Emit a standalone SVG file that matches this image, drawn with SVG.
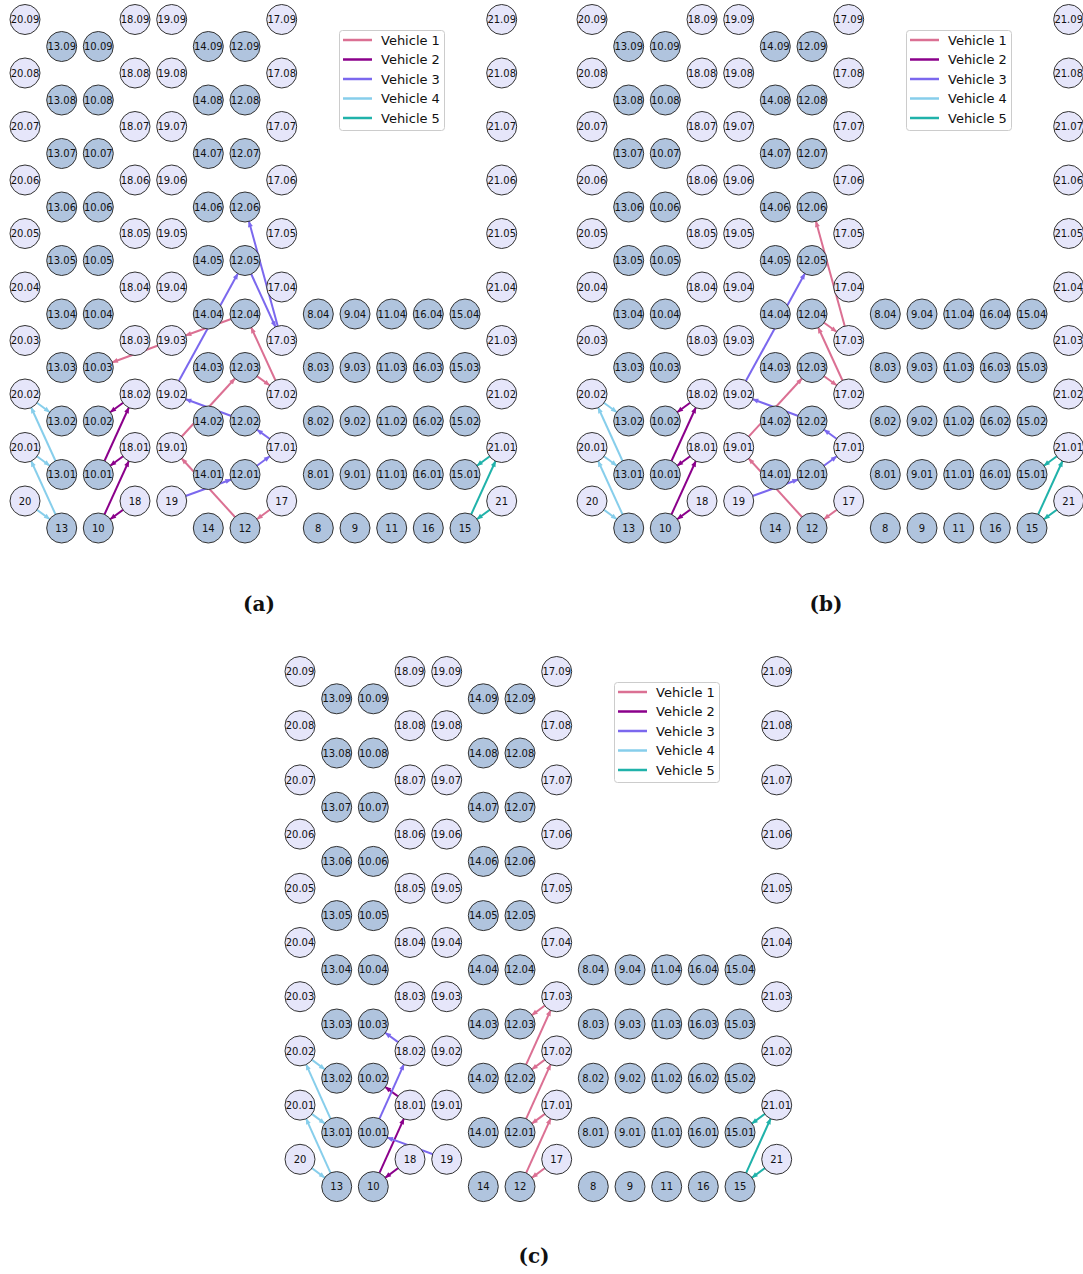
<svg xmlns="http://www.w3.org/2000/svg" width="1083" height="1274" viewBox="0 0 1083 1274">
<style>
.L circle{fill:#e6e6fa}
.D circle{fill:#b0c4de}
.nodes circle{stroke:#333;stroke-width:1}
.nodes text{font-family:"DejaVu Sans","Noto Sans",sans-serif;font-size:10px;text-anchor:middle;fill:#111}
.e path{fill:none;stroke-width:2}
.e1{stroke:#db7093;marker-end:url(#m1)}
.e2{stroke:#8b008b;marker-end:url(#m2)}
.e3{stroke:#7b68ee;marker-end:url(#m3)}
.e4{stroke:#87ceeb;marker-end:url(#m4)}
.e5{stroke:#20b2aa;marker-end:url(#m5)}
.leg rect{fill:#fff;fill-opacity:0.8;stroke:#ccc;stroke-width:1}
.leg line{stroke-width:2.5}
.leg text{font-family:"DejaVu Sans","Noto Sans",sans-serif;font-size:13px;fill:#111}
.cap{font-family:"DejaVu Serif","Liberation Serif",serif;font-size:20px;font-weight:bold;text-anchor:middle;fill:#111}
</style>
<defs>
<marker id="m1" markerUnits="userSpaceOnUse" markerWidth="8" markerHeight="6" refX="20.5" refY="2.5" orient="auto" overflow="visible"><path d="M0,0 L6,2.5 L0,5 z" fill="#db7093"/></marker>
<marker id="m2" markerUnits="userSpaceOnUse" markerWidth="8" markerHeight="6" refX="20.5" refY="2.5" orient="auto" overflow="visible"><path d="M0,0 L6,2.5 L0,5 z" fill="#8b008b"/></marker>
<marker id="m3" markerUnits="userSpaceOnUse" markerWidth="8" markerHeight="6" refX="20.5" refY="2.5" orient="auto" overflow="visible"><path d="M0,0 L6,2.5 L0,5 z" fill="#7b68ee"/></marker>
<marker id="m4" markerUnits="userSpaceOnUse" markerWidth="8" markerHeight="6" refX="20.5" refY="2.5" orient="auto" overflow="visible"><path d="M0,0 L6,2.5 L0,5 z" fill="#87ceeb"/></marker>
<marker id="m5" markerUnits="userSpaceOnUse" markerWidth="8" markerHeight="6" refX="20.5" refY="2.5" orient="auto" overflow="visible"><path d="M0,0 L6,2.5 L0,5 z" fill="#20b2aa"/></marker>
</defs>
<rect width="1083" height="1274" fill="#fff"/>

<g id="connectors" class="e">
<g id="edges-a">
<path class="e4" d="M25,501 L61.7,528"/>
<path class="e4" d="M61.7,528 L25,447.5"/>
<path class="e4" d="M25,447.5 L61.7,474.5"/>
<path class="e4" d="M61.7,474.5 L25,394"/>
<path class="e4" d="M25,394 L61.7,421"/>
<path class="e2" d="M135,501 L98.3,528"/>
<path class="e2" d="M98.3,528 L135,447.5"/>
<path class="e2" d="M135,447.5 L98.3,474.5"/>
<path class="e2" d="M98.3,474.5 L135,394"/>
<path class="e2" d="M135,394 L98.3,421"/>
<path class="e3" d="M171.7,501 L245,474.5"/>
<path class="e3" d="M245,474.5 L281.7,447.5"/>
<path class="e3" d="M281.7,447.5 L245,421"/>
<path class="e3" d="M245,421 L171.7,394"/>
<path class="e3" d="M171.7,394 L245,260.5"/>
<path class="e3" d="M245,260.5 L281.7,340.5"/>
<path class="e3" d="M281.7,340.5 L245,207"/>
<path class="e1" d="M281.7,501 L245,528"/>
<path class="e1" d="M245,528 L171.7,447.5"/>
<path class="e1" d="M171.7,447.5 L245,367.5"/>
<path class="e1" d="M245,367.5 L281.7,394"/>
<path class="e1" d="M281.7,394 L245,314"/>
<path class="e1" d="M245,314 L171.7,340.5"/>
<path class="e1" d="M171.7,340.5 L98.3,367.5"/>
<path class="e5" d="M501.7,501 L465,528"/>
<path class="e5" d="M465,528 L501.7,447.5"/>
<path class="e5" d="M501.7,447.5 L465,474.5"/>
</g>
<g id="edges-b" transform="translate(567,0)">
<path class="e4" d="M25,501 L61.7,528"/>
<path class="e4" d="M61.7,528 L25,447.5"/>
<path class="e4" d="M25,447.5 L61.7,474.5"/>
<path class="e4" d="M61.7,474.5 L25,394"/>
<path class="e4" d="M25,394 L61.7,421"/>
<path class="e2" d="M135,501 L98.3,528"/>
<path class="e2" d="M98.3,528 L135,447.5"/>
<path class="e2" d="M135,447.5 L98.3,474.5"/>
<path class="e2" d="M98.3,474.5 L135,394"/>
<path class="e2" d="M135,394 L98.3,421"/>
<path class="e3" d="M171.7,501 L245,474.5"/>
<path class="e3" d="M245,474.5 L281.7,447.5"/>
<path class="e3" d="M281.7,447.5 L245,421"/>
<path class="e3" d="M245,421 L171.7,394"/>
<path class="e3" d="M171.7,394 L245,260.5"/>
<path class="e1" d="M281.7,501 L245,528"/>
<path class="e1" d="M245,528 L171.7,447.5"/>
<path class="e1" d="M171.7,447.5 L245,367.5"/>
<path class="e1" d="M245,367.5 L281.7,394"/>
<path class="e1" d="M281.7,394 L245,314"/>
<path class="e1" d="M245,314 L281.7,340.5"/>
<path class="e1" d="M281.7,340.5 L245,207"/>
<path class="e5" d="M501.7,501 L465,528"/>
<path class="e5" d="M465,528 L501.7,447.5"/>
<path class="e5" d="M501.7,447.5 L465,474.5"/>
</g>
<g id="edges-c" transform="translate(275,0)">
<path class="e4" d="M25,1159.3 L61.7,1186.6"/>
<path class="e4" d="M61.7,1186.6 L25,1105.1"/>
<path class="e4" d="M25,1105.1 L61.7,1132.4"/>
<path class="e4" d="M61.7,1132.4 L25,1050.9"/>
<path class="e4" d="M25,1050.9 L61.7,1078.2"/>
<path class="e2" d="M135,1159.3 L98.3,1186.6"/>
<path class="e2" d="M98.3,1186.6 L135,1105.1"/>
<path class="e2" d="M135,1105.1 L98.3,1078.2"/>
<path class="e3" d="M171.7,1159.3 L98.3,1132.4"/>
<path class="e3" d="M98.3,1132.4 L135,1050.9"/>
<path class="e3" d="M135,1050.9 L98.3,1024"/>
<path class="e1" d="M281.7,1159.3 L245,1186.6"/>
<path class="e1" d="M245,1186.6 L281.7,1105.1"/>
<path class="e1" d="M281.7,1105.1 L245,1132.4"/>
<path class="e1" d="M245,1132.4 L281.7,1050.9"/>
<path class="e1" d="M281.7,1050.9 L245,1078.2"/>
<path class="e1" d="M245,1078.2 L281.7,996.7"/>
<path class="e1" d="M281.7,996.7 L245,1024"/>
<path class="e5" d="M501.7,1159.3 L465,1186.6"/>
<path class="e5" d="M465,1186.6 L501.7,1105.1"/>
<path class="e5" d="M501.7,1105.1 L465,1132.4"/>
</g>
</g>

<g id="nodes-a" class="nodes">
<g class="L">
<g id="a-20" transform="translate(25 501)"><circle r="15"/><text y="3.6">20</text></g>
<g id="a-20-01" transform="translate(25 447.5)"><circle r="15"/><text y="3.6">20.01</text></g>
<g id="a-20-02" transform="translate(25 394)"><circle r="15"/><text y="3.6">20.02</text></g>
<g id="a-20-03" transform="translate(25 340.5)"><circle r="15"/><text y="3.6">20.03</text></g>
<g id="a-20-04" transform="translate(25 287)"><circle r="15"/><text y="3.6">20.04</text></g>
<g id="a-20-05" transform="translate(25 233.5)"><circle r="15"/><text y="3.6">20.05</text></g>
<g id="a-20-06" transform="translate(25 180)"><circle r="15"/><text y="3.6">20.06</text></g>
<g id="a-20-07" transform="translate(25 126.5)"><circle r="15"/><text y="3.6">20.07</text></g>
<g id="a-20-08" transform="translate(25 73)"><circle r="15"/><text y="3.6">20.08</text></g>
<g id="a-20-09" transform="translate(25 19.5)"><circle r="15"/><text y="3.6">20.09</text></g>
<g id="a-18" transform="translate(135 501)"><circle r="15"/><text y="3.6">18</text></g>
<g id="a-18-01" transform="translate(135 447.5)"><circle r="15"/><text y="3.6">18.01</text></g>
<g id="a-18-02" transform="translate(135 394)"><circle r="15"/><text y="3.6">18.02</text></g>
<g id="a-18-03" transform="translate(135 340.5)"><circle r="15"/><text y="3.6">18.03</text></g>
<g id="a-18-04" transform="translate(135 287)"><circle r="15"/><text y="3.6">18.04</text></g>
<g id="a-18-05" transform="translate(135 233.5)"><circle r="15"/><text y="3.6">18.05</text></g>
<g id="a-18-06" transform="translate(135 180)"><circle r="15"/><text y="3.6">18.06</text></g>
<g id="a-18-07" transform="translate(135 126.5)"><circle r="15"/><text y="3.6">18.07</text></g>
<g id="a-18-08" transform="translate(135 73)"><circle r="15"/><text y="3.6">18.08</text></g>
<g id="a-18-09" transform="translate(135 19.5)"><circle r="15"/><text y="3.6">18.09</text></g>
<g id="a-19" transform="translate(171.7 501)"><circle r="15"/><text y="3.6">19</text></g>
<g id="a-19-01" transform="translate(171.7 447.5)"><circle r="15"/><text y="3.6">19.01</text></g>
<g id="a-19-02" transform="translate(171.7 394)"><circle r="15"/><text y="3.6">19.02</text></g>
<g id="a-19-03" transform="translate(171.7 340.5)"><circle r="15"/><text y="3.6">19.03</text></g>
<g id="a-19-04" transform="translate(171.7 287)"><circle r="15"/><text y="3.6">19.04</text></g>
<g id="a-19-05" transform="translate(171.7 233.5)"><circle r="15"/><text y="3.6">19.05</text></g>
<g id="a-19-06" transform="translate(171.7 180)"><circle r="15"/><text y="3.6">19.06</text></g>
<g id="a-19-07" transform="translate(171.7 126.5)"><circle r="15"/><text y="3.6">19.07</text></g>
<g id="a-19-08" transform="translate(171.7 73)"><circle r="15"/><text y="3.6">19.08</text></g>
<g id="a-19-09" transform="translate(171.7 19.5)"><circle r="15"/><text y="3.6">19.09</text></g>
<g id="a-17" transform="translate(281.7 501)"><circle r="15"/><text y="3.6">17</text></g>
<g id="a-17-01" transform="translate(281.7 447.5)"><circle r="15"/><text y="3.6">17.01</text></g>
<g id="a-17-02" transform="translate(281.7 394)"><circle r="15"/><text y="3.6">17.02</text></g>
<g id="a-17-03" transform="translate(281.7 340.5)"><circle r="15"/><text y="3.6">17.03</text></g>
<g id="a-17-04" transform="translate(281.7 287)"><circle r="15"/><text y="3.6">17.04</text></g>
<g id="a-17-05" transform="translate(281.7 233.5)"><circle r="15"/><text y="3.6">17.05</text></g>
<g id="a-17-06" transform="translate(281.7 180)"><circle r="15"/><text y="3.6">17.06</text></g>
<g id="a-17-07" transform="translate(281.7 126.5)"><circle r="15"/><text y="3.6">17.07</text></g>
<g id="a-17-08" transform="translate(281.7 73)"><circle r="15"/><text y="3.6">17.08</text></g>
<g id="a-17-09" transform="translate(281.7 19.5)"><circle r="15"/><text y="3.6">17.09</text></g>
<g id="a-21" transform="translate(501.7 501)"><circle r="15"/><text y="3.6">21</text></g>
<g id="a-21-01" transform="translate(501.7 447.5)"><circle r="15"/><text y="3.6">21.01</text></g>
<g id="a-21-02" transform="translate(501.7 394)"><circle r="15"/><text y="3.6">21.02</text></g>
<g id="a-21-03" transform="translate(501.7 340.5)"><circle r="15"/><text y="3.6">21.03</text></g>
<g id="a-21-04" transform="translate(501.7 287)"><circle r="15"/><text y="3.6">21.04</text></g>
<g id="a-21-05" transform="translate(501.7 233.5)"><circle r="15"/><text y="3.6">21.05</text></g>
<g id="a-21-06" transform="translate(501.7 180)"><circle r="15"/><text y="3.6">21.06</text></g>
<g id="a-21-07" transform="translate(501.7 126.5)"><circle r="15"/><text y="3.6">21.07</text></g>
<g id="a-21-08" transform="translate(501.7 73)"><circle r="15"/><text y="3.6">21.08</text></g>
<g id="a-21-09" transform="translate(501.7 19.5)"><circle r="15"/><text y="3.6">21.09</text></g>
</g>
<g class="D">
<g id="a-13" transform="translate(61.7 528)"><circle r="15"/><text y="3.6">13</text></g>
<g id="a-13-01" transform="translate(61.7 474.5)"><circle r="15"/><text y="3.6">13.01</text></g>
<g id="a-13-02" transform="translate(61.7 421)"><circle r="15"/><text y="3.6">13.02</text></g>
<g id="a-13-03" transform="translate(61.7 367.5)"><circle r="15"/><text y="3.6">13.03</text></g>
<g id="a-13-04" transform="translate(61.7 314)"><circle r="15"/><text y="3.6">13.04</text></g>
<g id="a-13-05" transform="translate(61.7 260.5)"><circle r="15"/><text y="3.6">13.05</text></g>
<g id="a-13-06" transform="translate(61.7 207)"><circle r="15"/><text y="3.6">13.06</text></g>
<g id="a-13-07" transform="translate(61.7 153.5)"><circle r="15"/><text y="3.6">13.07</text></g>
<g id="a-13-08" transform="translate(61.7 100)"><circle r="15"/><text y="3.6">13.08</text></g>
<g id="a-13-09" transform="translate(61.7 46.5)"><circle r="15"/><text y="3.6">13.09</text></g>
<g id="a-10" transform="translate(98.3 528)"><circle r="15"/><text y="3.6">10</text></g>
<g id="a-10-01" transform="translate(98.3 474.5)"><circle r="15"/><text y="3.6">10.01</text></g>
<g id="a-10-02" transform="translate(98.3 421)"><circle r="15"/><text y="3.6">10.02</text></g>
<g id="a-10-03" transform="translate(98.3 367.5)"><circle r="15"/><text y="3.6">10.03</text></g>
<g id="a-10-04" transform="translate(98.3 314)"><circle r="15"/><text y="3.6">10.04</text></g>
<g id="a-10-05" transform="translate(98.3 260.5)"><circle r="15"/><text y="3.6">10.05</text></g>
<g id="a-10-06" transform="translate(98.3 207)"><circle r="15"/><text y="3.6">10.06</text></g>
<g id="a-10-07" transform="translate(98.3 153.5)"><circle r="15"/><text y="3.6">10.07</text></g>
<g id="a-10-08" transform="translate(98.3 100)"><circle r="15"/><text y="3.6">10.08</text></g>
<g id="a-10-09" transform="translate(98.3 46.5)"><circle r="15"/><text y="3.6">10.09</text></g>
<g id="a-14" transform="translate(208.3 528)"><circle r="15"/><text y="3.6">14</text></g>
<g id="a-14-01" transform="translate(208.3 474.5)"><circle r="15"/><text y="3.6">14.01</text></g>
<g id="a-14-02" transform="translate(208.3 421)"><circle r="15"/><text y="3.6">14.02</text></g>
<g id="a-14-03" transform="translate(208.3 367.5)"><circle r="15"/><text y="3.6">14.03</text></g>
<g id="a-14-04" transform="translate(208.3 314)"><circle r="15"/><text y="3.6">14.04</text></g>
<g id="a-14-05" transform="translate(208.3 260.5)"><circle r="15"/><text y="3.6">14.05</text></g>
<g id="a-14-06" transform="translate(208.3 207)"><circle r="15"/><text y="3.6">14.06</text></g>
<g id="a-14-07" transform="translate(208.3 153.5)"><circle r="15"/><text y="3.6">14.07</text></g>
<g id="a-14-08" transform="translate(208.3 100)"><circle r="15"/><text y="3.6">14.08</text></g>
<g id="a-14-09" transform="translate(208.3 46.5)"><circle r="15"/><text y="3.6">14.09</text></g>
<g id="a-12" transform="translate(245 528)"><circle r="15"/><text y="3.6">12</text></g>
<g id="a-12-01" transform="translate(245 474.5)"><circle r="15"/><text y="3.6">12.01</text></g>
<g id="a-12-02" transform="translate(245 421)"><circle r="15"/><text y="3.6">12.02</text></g>
<g id="a-12-03" transform="translate(245 367.5)"><circle r="15"/><text y="3.6">12.03</text></g>
<g id="a-12-04" transform="translate(245 314)"><circle r="15"/><text y="3.6">12.04</text></g>
<g id="a-12-05" transform="translate(245 260.5)"><circle r="15"/><text y="3.6">12.05</text></g>
<g id="a-12-06" transform="translate(245 207)"><circle r="15"/><text y="3.6">12.06</text></g>
<g id="a-12-07" transform="translate(245 153.5)"><circle r="15"/><text y="3.6">12.07</text></g>
<g id="a-12-08" transform="translate(245 100)"><circle r="15"/><text y="3.6">12.08</text></g>
<g id="a-12-09" transform="translate(245 46.5)"><circle r="15"/><text y="3.6">12.09</text></g>
<g id="a-8" transform="translate(318.3 528)"><circle r="15"/><text y="3.6">8</text></g>
<g id="a-8-01" transform="translate(318.3 474.5)"><circle r="15"/><text y="3.6">8.01</text></g>
<g id="a-8-02" transform="translate(318.3 421)"><circle r="15"/><text y="3.6">8.02</text></g>
<g id="a-8-03" transform="translate(318.3 367.5)"><circle r="15"/><text y="3.6">8.03</text></g>
<g id="a-8-04" transform="translate(318.3 314)"><circle r="15"/><text y="3.6">8.04</text></g>
<g id="a-9" transform="translate(355 528)"><circle r="15"/><text y="3.6">9</text></g>
<g id="a-9-01" transform="translate(355 474.5)"><circle r="15"/><text y="3.6">9.01</text></g>
<g id="a-9-02" transform="translate(355 421)"><circle r="15"/><text y="3.6">9.02</text></g>
<g id="a-9-03" transform="translate(355 367.5)"><circle r="15"/><text y="3.6">9.03</text></g>
<g id="a-9-04" transform="translate(355 314)"><circle r="15"/><text y="3.6">9.04</text></g>
<g id="a-11" transform="translate(391.7 528)"><circle r="15"/><text y="3.6">11</text></g>
<g id="a-11-01" transform="translate(391.7 474.5)"><circle r="15"/><text y="3.6">11.01</text></g>
<g id="a-11-02" transform="translate(391.7 421)"><circle r="15"/><text y="3.6">11.02</text></g>
<g id="a-11-03" transform="translate(391.7 367.5)"><circle r="15"/><text y="3.6">11.03</text></g>
<g id="a-11-04" transform="translate(391.7 314)"><circle r="15"/><text y="3.6">11.04</text></g>
<g id="a-16" transform="translate(428.3 528)"><circle r="15"/><text y="3.6">16</text></g>
<g id="a-16-01" transform="translate(428.3 474.5)"><circle r="15"/><text y="3.6">16.01</text></g>
<g id="a-16-02" transform="translate(428.3 421)"><circle r="15"/><text y="3.6">16.02</text></g>
<g id="a-16-03" transform="translate(428.3 367.5)"><circle r="15"/><text y="3.6">16.03</text></g>
<g id="a-16-04" transform="translate(428.3 314)"><circle r="15"/><text y="3.6">16.04</text></g>
<g id="a-15" transform="translate(465 528)"><circle r="15"/><text y="3.6">15</text></g>
<g id="a-15-01" transform="translate(465 474.5)"><circle r="15"/><text y="3.6">15.01</text></g>
<g id="a-15-02" transform="translate(465 421)"><circle r="15"/><text y="3.6">15.02</text></g>
<g id="a-15-03" transform="translate(465 367.5)"><circle r="15"/><text y="3.6">15.03</text></g>
<g id="a-15-04" transform="translate(465 314)"><circle r="15"/><text y="3.6">15.04</text></g>
</g>
</g>

<g id="nodes-b" class="nodes" transform="translate(567,0)">
<g class="L">
<g id="b-20" transform="translate(25 501)"><circle r="15"/><text y="3.6">20</text></g>
<g id="b-20-01" transform="translate(25 447.5)"><circle r="15"/><text y="3.6">20.01</text></g>
<g id="b-20-02" transform="translate(25 394)"><circle r="15"/><text y="3.6">20.02</text></g>
<g id="b-20-03" transform="translate(25 340.5)"><circle r="15"/><text y="3.6">20.03</text></g>
<g id="b-20-04" transform="translate(25 287)"><circle r="15"/><text y="3.6">20.04</text></g>
<g id="b-20-05" transform="translate(25 233.5)"><circle r="15"/><text y="3.6">20.05</text></g>
<g id="b-20-06" transform="translate(25 180)"><circle r="15"/><text y="3.6">20.06</text></g>
<g id="b-20-07" transform="translate(25 126.5)"><circle r="15"/><text y="3.6">20.07</text></g>
<g id="b-20-08" transform="translate(25 73)"><circle r="15"/><text y="3.6">20.08</text></g>
<g id="b-20-09" transform="translate(25 19.5)"><circle r="15"/><text y="3.6">20.09</text></g>
<g id="b-18" transform="translate(135 501)"><circle r="15"/><text y="3.6">18</text></g>
<g id="b-18-01" transform="translate(135 447.5)"><circle r="15"/><text y="3.6">18.01</text></g>
<g id="b-18-02" transform="translate(135 394)"><circle r="15"/><text y="3.6">18.02</text></g>
<g id="b-18-03" transform="translate(135 340.5)"><circle r="15"/><text y="3.6">18.03</text></g>
<g id="b-18-04" transform="translate(135 287)"><circle r="15"/><text y="3.6">18.04</text></g>
<g id="b-18-05" transform="translate(135 233.5)"><circle r="15"/><text y="3.6">18.05</text></g>
<g id="b-18-06" transform="translate(135 180)"><circle r="15"/><text y="3.6">18.06</text></g>
<g id="b-18-07" transform="translate(135 126.5)"><circle r="15"/><text y="3.6">18.07</text></g>
<g id="b-18-08" transform="translate(135 73)"><circle r="15"/><text y="3.6">18.08</text></g>
<g id="b-18-09" transform="translate(135 19.5)"><circle r="15"/><text y="3.6">18.09</text></g>
<g id="b-19" transform="translate(171.7 501)"><circle r="15"/><text y="3.6">19</text></g>
<g id="b-19-01" transform="translate(171.7 447.5)"><circle r="15"/><text y="3.6">19.01</text></g>
<g id="b-19-02" transform="translate(171.7 394)"><circle r="15"/><text y="3.6">19.02</text></g>
<g id="b-19-03" transform="translate(171.7 340.5)"><circle r="15"/><text y="3.6">19.03</text></g>
<g id="b-19-04" transform="translate(171.7 287)"><circle r="15"/><text y="3.6">19.04</text></g>
<g id="b-19-05" transform="translate(171.7 233.5)"><circle r="15"/><text y="3.6">19.05</text></g>
<g id="b-19-06" transform="translate(171.7 180)"><circle r="15"/><text y="3.6">19.06</text></g>
<g id="b-19-07" transform="translate(171.7 126.5)"><circle r="15"/><text y="3.6">19.07</text></g>
<g id="b-19-08" transform="translate(171.7 73)"><circle r="15"/><text y="3.6">19.08</text></g>
<g id="b-19-09" transform="translate(171.7 19.5)"><circle r="15"/><text y="3.6">19.09</text></g>
<g id="b-17" transform="translate(281.7 501)"><circle r="15"/><text y="3.6">17</text></g>
<g id="b-17-01" transform="translate(281.7 447.5)"><circle r="15"/><text y="3.6">17.01</text></g>
<g id="b-17-02" transform="translate(281.7 394)"><circle r="15"/><text y="3.6">17.02</text></g>
<g id="b-17-03" transform="translate(281.7 340.5)"><circle r="15"/><text y="3.6">17.03</text></g>
<g id="b-17-04" transform="translate(281.7 287)"><circle r="15"/><text y="3.6">17.04</text></g>
<g id="b-17-05" transform="translate(281.7 233.5)"><circle r="15"/><text y="3.6">17.05</text></g>
<g id="b-17-06" transform="translate(281.7 180)"><circle r="15"/><text y="3.6">17.06</text></g>
<g id="b-17-07" transform="translate(281.7 126.5)"><circle r="15"/><text y="3.6">17.07</text></g>
<g id="b-17-08" transform="translate(281.7 73)"><circle r="15"/><text y="3.6">17.08</text></g>
<g id="b-17-09" transform="translate(281.7 19.5)"><circle r="15"/><text y="3.6">17.09</text></g>
<g id="b-21" transform="translate(501.7 501)"><circle r="15"/><text y="3.6">21</text></g>
<g id="b-21-01" transform="translate(501.7 447.5)"><circle r="15"/><text y="3.6">21.01</text></g>
<g id="b-21-02" transform="translate(501.7 394)"><circle r="15"/><text y="3.6">21.02</text></g>
<g id="b-21-03" transform="translate(501.7 340.5)"><circle r="15"/><text y="3.6">21.03</text></g>
<g id="b-21-04" transform="translate(501.7 287)"><circle r="15"/><text y="3.6">21.04</text></g>
<g id="b-21-05" transform="translate(501.7 233.5)"><circle r="15"/><text y="3.6">21.05</text></g>
<g id="b-21-06" transform="translate(501.7 180)"><circle r="15"/><text y="3.6">21.06</text></g>
<g id="b-21-07" transform="translate(501.7 126.5)"><circle r="15"/><text y="3.6">21.07</text></g>
<g id="b-21-08" transform="translate(501.7 73)"><circle r="15"/><text y="3.6">21.08</text></g>
<g id="b-21-09" transform="translate(501.7 19.5)"><circle r="15"/><text y="3.6">21.09</text></g>
</g>
<g class="D">
<g id="b-13" transform="translate(61.7 528)"><circle r="15"/><text y="3.6">13</text></g>
<g id="b-13-01" transform="translate(61.7 474.5)"><circle r="15"/><text y="3.6">13.01</text></g>
<g id="b-13-02" transform="translate(61.7 421)"><circle r="15"/><text y="3.6">13.02</text></g>
<g id="b-13-03" transform="translate(61.7 367.5)"><circle r="15"/><text y="3.6">13.03</text></g>
<g id="b-13-04" transform="translate(61.7 314)"><circle r="15"/><text y="3.6">13.04</text></g>
<g id="b-13-05" transform="translate(61.7 260.5)"><circle r="15"/><text y="3.6">13.05</text></g>
<g id="b-13-06" transform="translate(61.7 207)"><circle r="15"/><text y="3.6">13.06</text></g>
<g id="b-13-07" transform="translate(61.7 153.5)"><circle r="15"/><text y="3.6">13.07</text></g>
<g id="b-13-08" transform="translate(61.7 100)"><circle r="15"/><text y="3.6">13.08</text></g>
<g id="b-13-09" transform="translate(61.7 46.5)"><circle r="15"/><text y="3.6">13.09</text></g>
<g id="b-10" transform="translate(98.3 528)"><circle r="15"/><text y="3.6">10</text></g>
<g id="b-10-01" transform="translate(98.3 474.5)"><circle r="15"/><text y="3.6">10.01</text></g>
<g id="b-10-02" transform="translate(98.3 421)"><circle r="15"/><text y="3.6">10.02</text></g>
<g id="b-10-03" transform="translate(98.3 367.5)"><circle r="15"/><text y="3.6">10.03</text></g>
<g id="b-10-04" transform="translate(98.3 314)"><circle r="15"/><text y="3.6">10.04</text></g>
<g id="b-10-05" transform="translate(98.3 260.5)"><circle r="15"/><text y="3.6">10.05</text></g>
<g id="b-10-06" transform="translate(98.3 207)"><circle r="15"/><text y="3.6">10.06</text></g>
<g id="b-10-07" transform="translate(98.3 153.5)"><circle r="15"/><text y="3.6">10.07</text></g>
<g id="b-10-08" transform="translate(98.3 100)"><circle r="15"/><text y="3.6">10.08</text></g>
<g id="b-10-09" transform="translate(98.3 46.5)"><circle r="15"/><text y="3.6">10.09</text></g>
<g id="b-14" transform="translate(208.3 528)"><circle r="15"/><text y="3.6">14</text></g>
<g id="b-14-01" transform="translate(208.3 474.5)"><circle r="15"/><text y="3.6">14.01</text></g>
<g id="b-14-02" transform="translate(208.3 421)"><circle r="15"/><text y="3.6">14.02</text></g>
<g id="b-14-03" transform="translate(208.3 367.5)"><circle r="15"/><text y="3.6">14.03</text></g>
<g id="b-14-04" transform="translate(208.3 314)"><circle r="15"/><text y="3.6">14.04</text></g>
<g id="b-14-05" transform="translate(208.3 260.5)"><circle r="15"/><text y="3.6">14.05</text></g>
<g id="b-14-06" transform="translate(208.3 207)"><circle r="15"/><text y="3.6">14.06</text></g>
<g id="b-14-07" transform="translate(208.3 153.5)"><circle r="15"/><text y="3.6">14.07</text></g>
<g id="b-14-08" transform="translate(208.3 100)"><circle r="15"/><text y="3.6">14.08</text></g>
<g id="b-14-09" transform="translate(208.3 46.5)"><circle r="15"/><text y="3.6">14.09</text></g>
<g id="b-12" transform="translate(245 528)"><circle r="15"/><text y="3.6">12</text></g>
<g id="b-12-01" transform="translate(245 474.5)"><circle r="15"/><text y="3.6">12.01</text></g>
<g id="b-12-02" transform="translate(245 421)"><circle r="15"/><text y="3.6">12.02</text></g>
<g id="b-12-03" transform="translate(245 367.5)"><circle r="15"/><text y="3.6">12.03</text></g>
<g id="b-12-04" transform="translate(245 314)"><circle r="15"/><text y="3.6">12.04</text></g>
<g id="b-12-05" transform="translate(245 260.5)"><circle r="15"/><text y="3.6">12.05</text></g>
<g id="b-12-06" transform="translate(245 207)"><circle r="15"/><text y="3.6">12.06</text></g>
<g id="b-12-07" transform="translate(245 153.5)"><circle r="15"/><text y="3.6">12.07</text></g>
<g id="b-12-08" transform="translate(245 100)"><circle r="15"/><text y="3.6">12.08</text></g>
<g id="b-12-09" transform="translate(245 46.5)"><circle r="15"/><text y="3.6">12.09</text></g>
<g id="b-8" transform="translate(318.3 528)"><circle r="15"/><text y="3.6">8</text></g>
<g id="b-8-01" transform="translate(318.3 474.5)"><circle r="15"/><text y="3.6">8.01</text></g>
<g id="b-8-02" transform="translate(318.3 421)"><circle r="15"/><text y="3.6">8.02</text></g>
<g id="b-8-03" transform="translate(318.3 367.5)"><circle r="15"/><text y="3.6">8.03</text></g>
<g id="b-8-04" transform="translate(318.3 314)"><circle r="15"/><text y="3.6">8.04</text></g>
<g id="b-9" transform="translate(355 528)"><circle r="15"/><text y="3.6">9</text></g>
<g id="b-9-01" transform="translate(355 474.5)"><circle r="15"/><text y="3.6">9.01</text></g>
<g id="b-9-02" transform="translate(355 421)"><circle r="15"/><text y="3.6">9.02</text></g>
<g id="b-9-03" transform="translate(355 367.5)"><circle r="15"/><text y="3.6">9.03</text></g>
<g id="b-9-04" transform="translate(355 314)"><circle r="15"/><text y="3.6">9.04</text></g>
<g id="b-11" transform="translate(391.7 528)"><circle r="15"/><text y="3.6">11</text></g>
<g id="b-11-01" transform="translate(391.7 474.5)"><circle r="15"/><text y="3.6">11.01</text></g>
<g id="b-11-02" transform="translate(391.7 421)"><circle r="15"/><text y="3.6">11.02</text></g>
<g id="b-11-03" transform="translate(391.7 367.5)"><circle r="15"/><text y="3.6">11.03</text></g>
<g id="b-11-04" transform="translate(391.7 314)"><circle r="15"/><text y="3.6">11.04</text></g>
<g id="b-16" transform="translate(428.3 528)"><circle r="15"/><text y="3.6">16</text></g>
<g id="b-16-01" transform="translate(428.3 474.5)"><circle r="15"/><text y="3.6">16.01</text></g>
<g id="b-16-02" transform="translate(428.3 421)"><circle r="15"/><text y="3.6">16.02</text></g>
<g id="b-16-03" transform="translate(428.3 367.5)"><circle r="15"/><text y="3.6">16.03</text></g>
<g id="b-16-04" transform="translate(428.3 314)"><circle r="15"/><text y="3.6">16.04</text></g>
<g id="b-15" transform="translate(465 528)"><circle r="15"/><text y="3.6">15</text></g>
<g id="b-15-01" transform="translate(465 474.5)"><circle r="15"/><text y="3.6">15.01</text></g>
<g id="b-15-02" transform="translate(465 421)"><circle r="15"/><text y="3.6">15.02</text></g>
<g id="b-15-03" transform="translate(465 367.5)"><circle r="15"/><text y="3.6">15.03</text></g>
<g id="b-15-04" transform="translate(465 314)"><circle r="15"/><text y="3.6">15.04</text></g>
</g>
</g>

<g id="nodes-c" class="nodes" transform="translate(275,0)">
<g class="L">
<g id="c-20" transform="translate(25 1159.3)"><circle r="15"/><text y="3.6">20</text></g>
<g id="c-20-01" transform="translate(25 1105.1)"><circle r="15"/><text y="3.6">20.01</text></g>
<g id="c-20-02" transform="translate(25 1050.9)"><circle r="15"/><text y="3.6">20.02</text></g>
<g id="c-20-03" transform="translate(25 996.7)"><circle r="15"/><text y="3.6">20.03</text></g>
<g id="c-20-04" transform="translate(25 942.5)"><circle r="15"/><text y="3.6">20.04</text></g>
<g id="c-20-05" transform="translate(25 888.3)"><circle r="15"/><text y="3.6">20.05</text></g>
<g id="c-20-06" transform="translate(25 834.1)"><circle r="15"/><text y="3.6">20.06</text></g>
<g id="c-20-07" transform="translate(25 779.9)"><circle r="15"/><text y="3.6">20.07</text></g>
<g id="c-20-08" transform="translate(25 725.7)"><circle r="15"/><text y="3.6">20.08</text></g>
<g id="c-20-09" transform="translate(25 671.5)"><circle r="15"/><text y="3.6">20.09</text></g>
<g id="c-18" transform="translate(135 1159.3)"><circle r="15"/><text y="3.6">18</text></g>
<g id="c-18-01" transform="translate(135 1105.1)"><circle r="15"/><text y="3.6">18.01</text></g>
<g id="c-18-02" transform="translate(135 1050.9)"><circle r="15"/><text y="3.6">18.02</text></g>
<g id="c-18-03" transform="translate(135 996.7)"><circle r="15"/><text y="3.6">18.03</text></g>
<g id="c-18-04" transform="translate(135 942.5)"><circle r="15"/><text y="3.6">18.04</text></g>
<g id="c-18-05" transform="translate(135 888.3)"><circle r="15"/><text y="3.6">18.05</text></g>
<g id="c-18-06" transform="translate(135 834.1)"><circle r="15"/><text y="3.6">18.06</text></g>
<g id="c-18-07" transform="translate(135 779.9)"><circle r="15"/><text y="3.6">18.07</text></g>
<g id="c-18-08" transform="translate(135 725.7)"><circle r="15"/><text y="3.6">18.08</text></g>
<g id="c-18-09" transform="translate(135 671.5)"><circle r="15"/><text y="3.6">18.09</text></g>
<g id="c-19" transform="translate(171.7 1159.3)"><circle r="15"/><text y="3.6">19</text></g>
<g id="c-19-01" transform="translate(171.7 1105.1)"><circle r="15"/><text y="3.6">19.01</text></g>
<g id="c-19-02" transform="translate(171.7 1050.9)"><circle r="15"/><text y="3.6">19.02</text></g>
<g id="c-19-03" transform="translate(171.7 996.7)"><circle r="15"/><text y="3.6">19.03</text></g>
<g id="c-19-04" transform="translate(171.7 942.5)"><circle r="15"/><text y="3.6">19.04</text></g>
<g id="c-19-05" transform="translate(171.7 888.3)"><circle r="15"/><text y="3.6">19.05</text></g>
<g id="c-19-06" transform="translate(171.7 834.1)"><circle r="15"/><text y="3.6">19.06</text></g>
<g id="c-19-07" transform="translate(171.7 779.9)"><circle r="15"/><text y="3.6">19.07</text></g>
<g id="c-19-08" transform="translate(171.7 725.7)"><circle r="15"/><text y="3.6">19.08</text></g>
<g id="c-19-09" transform="translate(171.7 671.5)"><circle r="15"/><text y="3.6">19.09</text></g>
<g id="c-17" transform="translate(281.7 1159.3)"><circle r="15"/><text y="3.6">17</text></g>
<g id="c-17-01" transform="translate(281.7 1105.1)"><circle r="15"/><text y="3.6">17.01</text></g>
<g id="c-17-02" transform="translate(281.7 1050.9)"><circle r="15"/><text y="3.6">17.02</text></g>
<g id="c-17-03" transform="translate(281.7 996.7)"><circle r="15"/><text y="3.6">17.03</text></g>
<g id="c-17-04" transform="translate(281.7 942.5)"><circle r="15"/><text y="3.6">17.04</text></g>
<g id="c-17-05" transform="translate(281.7 888.3)"><circle r="15"/><text y="3.6">17.05</text></g>
<g id="c-17-06" transform="translate(281.7 834.1)"><circle r="15"/><text y="3.6">17.06</text></g>
<g id="c-17-07" transform="translate(281.7 779.9)"><circle r="15"/><text y="3.6">17.07</text></g>
<g id="c-17-08" transform="translate(281.7 725.7)"><circle r="15"/><text y="3.6">17.08</text></g>
<g id="c-17-09" transform="translate(281.7 671.5)"><circle r="15"/><text y="3.6">17.09</text></g>
<g id="c-21" transform="translate(501.7 1159.3)"><circle r="15"/><text y="3.6">21</text></g>
<g id="c-21-01" transform="translate(501.7 1105.1)"><circle r="15"/><text y="3.6">21.01</text></g>
<g id="c-21-02" transform="translate(501.7 1050.9)"><circle r="15"/><text y="3.6">21.02</text></g>
<g id="c-21-03" transform="translate(501.7 996.7)"><circle r="15"/><text y="3.6">21.03</text></g>
<g id="c-21-04" transform="translate(501.7 942.5)"><circle r="15"/><text y="3.6">21.04</text></g>
<g id="c-21-05" transform="translate(501.7 888.3)"><circle r="15"/><text y="3.6">21.05</text></g>
<g id="c-21-06" transform="translate(501.7 834.1)"><circle r="15"/><text y="3.6">21.06</text></g>
<g id="c-21-07" transform="translate(501.7 779.9)"><circle r="15"/><text y="3.6">21.07</text></g>
<g id="c-21-08" transform="translate(501.7 725.7)"><circle r="15"/><text y="3.6">21.08</text></g>
<g id="c-21-09" transform="translate(501.7 671.5)"><circle r="15"/><text y="3.6">21.09</text></g>
</g>
<g class="D">
<g id="c-13" transform="translate(61.7 1186.6)"><circle r="15"/><text y="3.6">13</text></g>
<g id="c-13-01" transform="translate(61.7 1132.4)"><circle r="15"/><text y="3.6">13.01</text></g>
<g id="c-13-02" transform="translate(61.7 1078.2)"><circle r="15"/><text y="3.6">13.02</text></g>
<g id="c-13-03" transform="translate(61.7 1024)"><circle r="15"/><text y="3.6">13.03</text></g>
<g id="c-13-04" transform="translate(61.7 969.8)"><circle r="15"/><text y="3.6">13.04</text></g>
<g id="c-13-05" transform="translate(61.7 915.6)"><circle r="15"/><text y="3.6">13.05</text></g>
<g id="c-13-06" transform="translate(61.7 861.4)"><circle r="15"/><text y="3.6">13.06</text></g>
<g id="c-13-07" transform="translate(61.7 807.2)"><circle r="15"/><text y="3.6">13.07</text></g>
<g id="c-13-08" transform="translate(61.7 753)"><circle r="15"/><text y="3.6">13.08</text></g>
<g id="c-13-09" transform="translate(61.7 698.8)"><circle r="15"/><text y="3.6">13.09</text></g>
<g id="c-10" transform="translate(98.3 1186.6)"><circle r="15"/><text y="3.6">10</text></g>
<g id="c-10-01" transform="translate(98.3 1132.4)"><circle r="15"/><text y="3.6">10.01</text></g>
<g id="c-10-02" transform="translate(98.3 1078.2)"><circle r="15"/><text y="3.6">10.02</text></g>
<g id="c-10-03" transform="translate(98.3 1024)"><circle r="15"/><text y="3.6">10.03</text></g>
<g id="c-10-04" transform="translate(98.3 969.8)"><circle r="15"/><text y="3.6">10.04</text></g>
<g id="c-10-05" transform="translate(98.3 915.6)"><circle r="15"/><text y="3.6">10.05</text></g>
<g id="c-10-06" transform="translate(98.3 861.4)"><circle r="15"/><text y="3.6">10.06</text></g>
<g id="c-10-07" transform="translate(98.3 807.2)"><circle r="15"/><text y="3.6">10.07</text></g>
<g id="c-10-08" transform="translate(98.3 753)"><circle r="15"/><text y="3.6">10.08</text></g>
<g id="c-10-09" transform="translate(98.3 698.8)"><circle r="15"/><text y="3.6">10.09</text></g>
<g id="c-14" transform="translate(208.3 1186.6)"><circle r="15"/><text y="3.6">14</text></g>
<g id="c-14-01" transform="translate(208.3 1132.4)"><circle r="15"/><text y="3.6">14.01</text></g>
<g id="c-14-02" transform="translate(208.3 1078.2)"><circle r="15"/><text y="3.6">14.02</text></g>
<g id="c-14-03" transform="translate(208.3 1024)"><circle r="15"/><text y="3.6">14.03</text></g>
<g id="c-14-04" transform="translate(208.3 969.8)"><circle r="15"/><text y="3.6">14.04</text></g>
<g id="c-14-05" transform="translate(208.3 915.6)"><circle r="15"/><text y="3.6">14.05</text></g>
<g id="c-14-06" transform="translate(208.3 861.4)"><circle r="15"/><text y="3.6">14.06</text></g>
<g id="c-14-07" transform="translate(208.3 807.2)"><circle r="15"/><text y="3.6">14.07</text></g>
<g id="c-14-08" transform="translate(208.3 753)"><circle r="15"/><text y="3.6">14.08</text></g>
<g id="c-14-09" transform="translate(208.3 698.8)"><circle r="15"/><text y="3.6">14.09</text></g>
<g id="c-12" transform="translate(245 1186.6)"><circle r="15"/><text y="3.6">12</text></g>
<g id="c-12-01" transform="translate(245 1132.4)"><circle r="15"/><text y="3.6">12.01</text></g>
<g id="c-12-02" transform="translate(245 1078.2)"><circle r="15"/><text y="3.6">12.02</text></g>
<g id="c-12-03" transform="translate(245 1024)"><circle r="15"/><text y="3.6">12.03</text></g>
<g id="c-12-04" transform="translate(245 969.8)"><circle r="15"/><text y="3.6">12.04</text></g>
<g id="c-12-05" transform="translate(245 915.6)"><circle r="15"/><text y="3.6">12.05</text></g>
<g id="c-12-06" transform="translate(245 861.4)"><circle r="15"/><text y="3.6">12.06</text></g>
<g id="c-12-07" transform="translate(245 807.2)"><circle r="15"/><text y="3.6">12.07</text></g>
<g id="c-12-08" transform="translate(245 753)"><circle r="15"/><text y="3.6">12.08</text></g>
<g id="c-12-09" transform="translate(245 698.8)"><circle r="15"/><text y="3.6">12.09</text></g>
<g id="c-8" transform="translate(318.3 1186.6)"><circle r="15"/><text y="3.6">8</text></g>
<g id="c-8-01" transform="translate(318.3 1132.4)"><circle r="15"/><text y="3.6">8.01</text></g>
<g id="c-8-02" transform="translate(318.3 1078.2)"><circle r="15"/><text y="3.6">8.02</text></g>
<g id="c-8-03" transform="translate(318.3 1024)"><circle r="15"/><text y="3.6">8.03</text></g>
<g id="c-8-04" transform="translate(318.3 969.8)"><circle r="15"/><text y="3.6">8.04</text></g>
<g id="c-9" transform="translate(355 1186.6)"><circle r="15"/><text y="3.6">9</text></g>
<g id="c-9-01" transform="translate(355 1132.4)"><circle r="15"/><text y="3.6">9.01</text></g>
<g id="c-9-02" transform="translate(355 1078.2)"><circle r="15"/><text y="3.6">9.02</text></g>
<g id="c-9-03" transform="translate(355 1024)"><circle r="15"/><text y="3.6">9.03</text></g>
<g id="c-9-04" transform="translate(355 969.8)"><circle r="15"/><text y="3.6">9.04</text></g>
<g id="c-11" transform="translate(391.7 1186.6)"><circle r="15"/><text y="3.6">11</text></g>
<g id="c-11-01" transform="translate(391.7 1132.4)"><circle r="15"/><text y="3.6">11.01</text></g>
<g id="c-11-02" transform="translate(391.7 1078.2)"><circle r="15"/><text y="3.6">11.02</text></g>
<g id="c-11-03" transform="translate(391.7 1024)"><circle r="15"/><text y="3.6">11.03</text></g>
<g id="c-11-04" transform="translate(391.7 969.8)"><circle r="15"/><text y="3.6">11.04</text></g>
<g id="c-16" transform="translate(428.3 1186.6)"><circle r="15"/><text y="3.6">16</text></g>
<g id="c-16-01" transform="translate(428.3 1132.4)"><circle r="15"/><text y="3.6">16.01</text></g>
<g id="c-16-02" transform="translate(428.3 1078.2)"><circle r="15"/><text y="3.6">16.02</text></g>
<g id="c-16-03" transform="translate(428.3 1024)"><circle r="15"/><text y="3.6">16.03</text></g>
<g id="c-16-04" transform="translate(428.3 969.8)"><circle r="15"/><text y="3.6">16.04</text></g>
<g id="c-15" transform="translate(465 1186.6)"><circle r="15"/><text y="3.6">15</text></g>
<g id="c-15-01" transform="translate(465 1132.4)"><circle r="15"/><text y="3.6">15.01</text></g>
<g id="c-15-02" transform="translate(465 1078.2)"><circle r="15"/><text y="3.6">15.02</text></g>
<g id="c-15-03" transform="translate(465 1024)"><circle r="15"/><text y="3.6">15.03</text></g>
<g id="c-15-04" transform="translate(465 969.8)"><circle r="15"/><text y="3.6">15.04</text></g>
</g>
</g>

<g id="legend-a" class="leg">
<rect x="339.5" y="30.5" width="105" height="100" rx="3"/>
<line x1="343" y1="40" x2="372" y2="40" stroke="#db7093"/>
<line x1="343" y1="59.5" x2="372" y2="59.5" stroke="#8b008b"/>
<line x1="343" y1="79" x2="372" y2="79" stroke="#7b68ee"/>
<line x1="343" y1="98.5" x2="372" y2="98.5" stroke="#87ceeb"/>
<line x1="343" y1="118" x2="372" y2="118" stroke="#20b2aa"/>
<text x="381" y="44.7">Vehicle 1</text>
<text x="381" y="64.2">Vehicle 2</text>
<text x="381" y="83.7">Vehicle 3</text>
<text x="381" y="103.2">Vehicle 4</text>
<text x="381" y="122.7">Vehicle 5</text>
</g>
<g id="legend-b" class="leg" transform="translate(567,0)">
<rect x="339.5" y="30.5" width="105" height="100" rx="3"/>
<line x1="343" y1="40" x2="372" y2="40" stroke="#db7093"/>
<line x1="343" y1="59.5" x2="372" y2="59.5" stroke="#8b008b"/>
<line x1="343" y1="79" x2="372" y2="79" stroke="#7b68ee"/>
<line x1="343" y1="98.5" x2="372" y2="98.5" stroke="#87ceeb"/>
<line x1="343" y1="118" x2="372" y2="118" stroke="#20b2aa"/>
<text x="381" y="44.7">Vehicle 1</text>
<text x="381" y="64.2">Vehicle 2</text>
<text x="381" y="83.7">Vehicle 3</text>
<text x="381" y="103.2">Vehicle 4</text>
<text x="381" y="122.7">Vehicle 5</text>
</g>
<g id="legend-c" class="leg" transform="translate(275,652)">
<rect x="339.5" y="30.5" width="105" height="100" rx="3"/>
<line x1="343" y1="40" x2="372" y2="40" stroke="#db7093"/>
<line x1="343" y1="59.5" x2="372" y2="59.5" stroke="#8b008b"/>
<line x1="343" y1="79" x2="372" y2="79" stroke="#7b68ee"/>
<line x1="343" y1="98.5" x2="372" y2="98.5" stroke="#87ceeb"/>
<line x1="343" y1="118" x2="372" y2="118" stroke="#20b2aa"/>
<text x="381" y="44.7">Vehicle 1</text>
<text x="381" y="64.2">Vehicle 2</text>
<text x="381" y="83.7">Vehicle 3</text>
<text x="381" y="103.2">Vehicle 4</text>
<text x="381" y="122.7">Vehicle 5</text>
</g>

<g id="captions">
<text class="cap" x="259" y="611">(a)</text>
<text class="cap" x="826" y="611">(b)</text>
<text class="cap" x="534" y="1263">(c)</text>
</g>
</svg>
